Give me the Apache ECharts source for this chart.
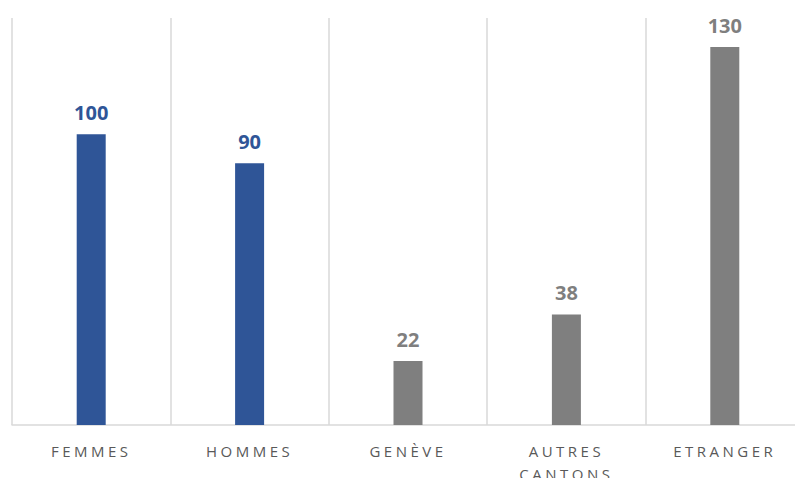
<!DOCTYPE html>
<html>
<head>
<meta charset="utf-8">
<script src="https://cdn.jsdelivr.net/npm/echarts@6/dist/echarts.min.js"></script>
<style>
  html, body { margin: 0; padding: 0; background: #fff; }
  #main { width: 795px; height: 478px; }
  /* spaced-out category labels */
  #main text[fill="#595959"] { letter-spacing: 3.5px; }
</style>
</head>
<body>
<div id="main"></div>
<script>
var categories = ['FEMMES', 'HOMMES', 'GENÈVE', 'AUTRES\nCANTONS', 'ETRANGER'];
var values = [100, 90, 22, 38, 130];
var barColors = ['#2F5597', '#2F5597', '#7F7F7F', '#7F7F7F', '#7F7F7F'];

var myChart = echarts.init(document.getElementById('main'), null, { renderer: 'svg' });

var option = {
    animation: false,
    grid: { left: 12, right: -9, top: 18, bottom: 53, outerBoundsMode: 'none', containLabel: false },
    xAxis: {
        type: 'category',
        data: categories,
        boundaryGap: true,
        axisLine: { show: true, lineStyle: { color: '#d9d9d9', width: 1.5 } },
        axisTick: { show: false },
        splitLine: { show: true, lineStyle: { color: '#d9d9d9', width: 1.5 } },
        axisLabel: {
            color: '#595959',
            fontFamily: 'Open Sans',
            fontSize: 15,
            lineHeight: 23,
            margin: 14,
            interval: 0
        }
    },
    yAxis: {
        type: 'value',
        min: 0,
        max: 140,
        show: false,
        splitLine: { show: false }
    },
    series: [
        {
            type: 'bar',
            barWidth: 29,
            data: values.map(function (v, i) {
                return {
                    value: v,
                    itemStyle: { color: barColors[i] },
                    label: { color: barColors[i] }
                };
            }),
            label: {
                show: true,
                position: 'top',
                distance: 12,
                fontFamily: 'Open Sans',
                fontWeight: 'bold',
                fontSize: 20
            }
        }
    ]
};

myChart.setOption(option);
</script>
</body>
</html>
